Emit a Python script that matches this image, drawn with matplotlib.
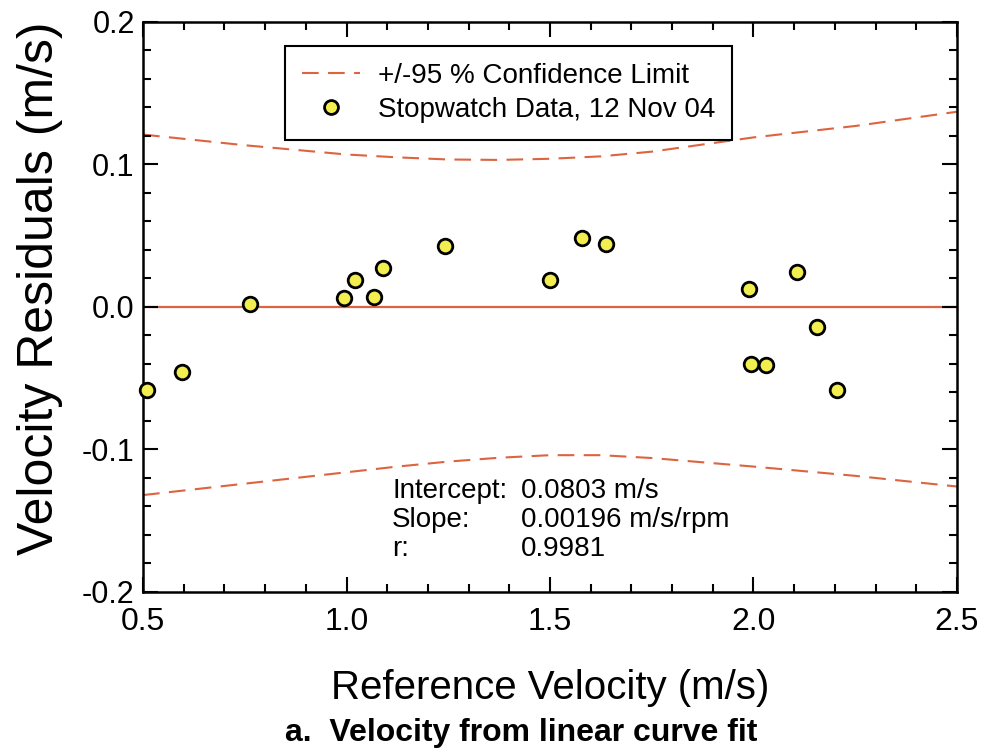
import numpy as np
import matplotlib.pyplot as plt
from matplotlib.ticker import MultipleLocator, FormatStrFormatter
from matplotlib.lines import Line2D

plt.rcParams['font.family'] = ['Liberation Sans', 'DejaVu Sans']

# velocity residuals, stopwatch data
ref_vel = [0.509, 0.596, 0.762, 0.994, 1.021, 1.068, 1.089, 1.243, 1.501,
           1.578, 1.638, 1.988, 1.994, 2.031, 2.108, 2.155, 2.205]
residual = [-0.0586, -0.0459, 0.0021, 0.0063, 0.0192, 0.0072, 0.0274, 0.0426,
            0.0190, 0.0483, 0.0445, 0.0128, -0.0397, -0.0406, 0.0244, -0.0139,
            -0.0580]

# +/-95 % confidence limits
conf_x = [0.5, 0.75, 1.0, 1.125, 1.25, 1.375, 1.5, 1.625, 1.75, 2.0, 2.25, 2.5]
conf_upper = [0.121, 0.1135, 0.107, 0.105, 0.1035, 0.1032, 0.104, 0.1057,
              0.109, 0.119, 0.127, 0.137]
conf_lower = [-0.132, -0.124, -0.116, -0.112, -0.1085, -0.1058, -0.104,
              -0.104, -0.106, -0.112, -0.1185, -0.126]
fit_residual = 0.0

fit_labels = ['Intercept:', 'Slope:', 'r:']
fit_values = ['0.0803 m/s', '0.00196 m/s/rpm', '0.9981']

red = '#dc6440'
yellow = '#f2ee50'

fig = plt.figure(figsize=(9.83, 7.5), dpi=100)
ax = fig.add_axes([0.1455, 0.2107, 0.828, 0.76])

ax.axhline(fit_residual, color=red, lw=1.6, zorder=1)
ax.plot(conf_x, conf_upper, color=red, lw=1.5, dashes=(8, 4.5), zorder=1)
ax.plot(conf_x, conf_lower, color=red, lw=1.5, dashes=(8, 4.5), zorder=1)
ax.plot(ref_vel, residual, 'o', ms=10.5, mfc=yellow, mec='black', mew=2,
        zorder=3, clip_on=False)

ax.set_xlim(0.5, 2.5)
ax.set_ylim(-0.2, 0.2)
ax.xaxis.set_major_locator(MultipleLocator(0.5))
ax.xaxis.set_minor_locator(MultipleLocator(0.1))
ax.yaxis.set_major_locator(MultipleLocator(0.1))
ax.yaxis.set_minor_locator(MultipleLocator(0.02))
ax.xaxis.set_major_formatter(FormatStrFormatter('%.1f'))
ax.yaxis.set_major_formatter(FormatStrFormatter('%.1f'))
ax.tick_params(which='both', direction='in', top=True, right=True, width=1.5)
ax.tick_params(which='major', length=11)
ax.tick_params(which='minor', length=6)
ax.tick_params(axis='y', labelsize=22, pad=6)
ax.tick_params(axis='x', labelsize=23, pad=11)
for s in ax.spines.values():
    s.set_linewidth(1.8)

fig.text(0.5595, 0.083, 'Reference Velocity (m/s)', ha='center', va='center',
         fontsize=29)
fig.text(0.041, 0.616, 'Velocity Residuals (m/s)', rotation=90,
         ha='center', va='center', fontsize=36)
fig.text(0.530, 0.023, 'a.  Velocity from linear curve fit',
         fontweight='bold', fontsize=23, ha='center', va='center')

handles = [Line2D([], [], color=red, lw=1.5, dashes=(8, 4.5)),
           Line2D([], [], ls='none', marker='o', ms=10, mfc=yellow,
                  mec='black', mew=2)]
leg = ax.legend(handles, ['+/-95 % Confidence Limit', 'Stopwatch Data, 12 Nov 04'],
                loc='upper left', bbox_to_anchor=(0.1744, 0.958),
                borderaxespad=0, fontsize=20, fancybox=False, framealpha=1,
                edgecolor='black', handlelength=2.1, handletextpad=0.65,
                borderpad=0.6, labelspacing=0.3)
leg.get_frame().set_linewidth(1.5)

for i in range(len(fit_labels)):
    y = 0.177 - i * 0.051
    ax.text(0.306, y, fit_labels[i], transform=ax.transAxes, fontsize=20,
            va='center')
    ax.text(0.464, y, fit_values[i], transform=ax.transAxes, fontsize=20,
            va='center')

fig.savefig('out.png', dpi=100)
